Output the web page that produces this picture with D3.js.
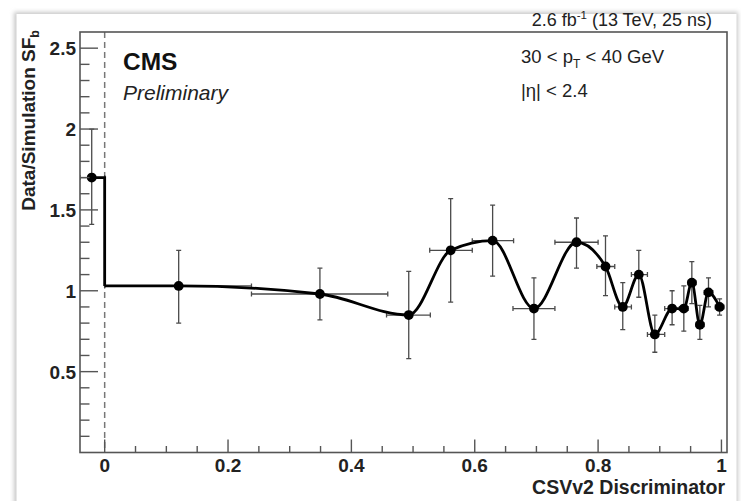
<!DOCTYPE html>
<html>
<head>
<meta charset="utf-8">
<script src="https://cdn.jsdelivr.net/npm/d3@7"></script>
<style>
  html, body { margin: 0; padding: 0; background: #fff; }
  text { font-family: "Liberation Sans", Arial, Helvetica, sans-serif; }
</style>
</head>
<body>
<svg id="chart" width="741" height="501"></svg>
<script>
// ---- data ----
const binX   = [-0.021, 0.12, 0.349, 0.493, 0.561, 0.629, 0.696, 0.765, 0.812, 0.840, 0.866, 0.892, 0.920, 0.939, 0.952, 0.965, 0.979, 0.997];
const binLo  = [-0.040, 0.000, 0.238, 0.457, 0.527, 0.596, 0.662, 0.730, 0.798, 0.827, 0.854, 0.880, 0.908, 0.932, 0.946, 0.959, 0.972, 0.990];
const binHi  = [ 0.000, 0.238, 0.459, 0.528, 0.596, 0.663, 0.730, 0.800, 0.827, 0.854, 0.880, 0.908, 0.932, 0.946, 0.959, 0.972, 0.986, 1.004];
const sfVal  = [1.70, 1.03, 0.98, 0.85, 1.25, 1.31, 0.89, 1.30, 1.15, 0.90, 1.10, 0.73, 0.89, 0.89, 1.05, 0.79, 0.99, 0.90];
const sfUp   = [2.00, 1.25, 1.14, 1.12, 1.57, 1.53, 1.08, 1.45, 1.34, 1.05, 1.25, 0.85, 1.00, 1.03, 1.18, 0.91, 1.08, 0.95];
const sfDown = [1.41, 0.80, 0.82, 0.58, 0.93, 1.09, 0.70, 1.14, 0.97, 0.76, 0.96, 0.62, 0.79, 0.75, 0.92, 0.70, 0.90, 0.85];
const xMajorTicks = [0, 0.2, 0.4, 0.6, 0.8, 1];
const yMajorTicks = [0.5, 1, 1.5, 2, 2.5];
const xTickLabels = ["0", "0.2", "0.4", "0.6", "0.8", "1"];
const yTickLabels = ["0.5", "1", "1.5", "2", "2.5"];

// ---- layout ----
const svg = d3.select("#chart");
const W = 741, H = 501;
const L = 80, R = 727, T = 32, B = 452.5;

// page shadow frame
const defs = svg.append("defs");
const f = defs.append("filter").attr("id", "sh").attr("x", "-5%").attr("y", "-5%").attr("width", "110%").attr("height", "110%");
f.append("feGaussianBlur").attr("stdDeviation", 2);
svg.append("rect").attr("x", 0).attr("y", 0).attr("width", W).attr("height", H).attr("fill", "#fff");
svg.append("rect").attr("x", 14).attr("y", 12).attr("width", 724).attr("height", 520)
  .attr("fill", "#c8c8c8").attr("filter", "url(#sh)");
svg.append("rect").attr("x", 16.5).attr("y", 14).attr("width", 720).attr("height", 520).attr("fill", "#fff");

const x = d3.scaleLinear().domain([-0.04, 1.009]).range([L, R]);
const y = d3.scaleLinear().domain([0, 2.6]).range([B, T]);

const g = svg.append("g");
const clipId = "plotclip";
defs.append("clipPath").attr("id", clipId).append("rect")
  .attr("x", L).attr("y", T).attr("width", R - L).attr("height", B - T);

// dashed line at 0
g.append("line").attr("x1", x(0)).attr("x2", x(0)).attr("y1", T).attr("y2", B)
  .attr("stroke", "#777").attr("stroke-width", 1.5).attr("stroke-dasharray", "6,4");

// error bars
const eb = g.append("g").attr("clip-path", `url(#${clipId})`)
  .attr("stroke", "#4a4a4a").attr("stroke-width", 1.3).attr("fill", "none");
const cap = 2.5;
binX.forEach((bx, i) => {
  const px = x(bx), py = y(sfVal[i]);
  eb.append("line").attr("x1", px).attr("x2", px).attr("y1", y(sfUp[i])).attr("y2", y(sfDown[i]));
  eb.append("line").attr("x1", px - cap).attr("x2", px + cap).attr("y1", y(sfUp[i])).attr("y2", y(sfUp[i]));
  eb.append("line").attr("x1", px - cap).attr("x2", px + cap).attr("y1", y(sfDown[i])).attr("y2", y(sfDown[i]));
  eb.append("line").attr("x1", x(binLo[i])).attr("x2", x(binHi[i])).attr("y1", py).attr("y2", py);
  eb.append("line").attr("x1", x(binLo[i])).attr("x2", x(binLo[i])).attr("y1", py - cap).attr("y2", py + cap);
  eb.append("line").attr("x1", x(binHi[i])).attr("x2", x(binHi[i])).attr("y1", py - cap).attr("y2", py + cap);
});

// step + smooth curve
const stepPts = [[binX[0], sfVal[0]], [0, sfVal[0]], [0, sfVal[1]]];
const curvePts = [[0, sfVal[1]]].concat(binX.slice(1).map((bx, i) => [bx, sfVal[i + 1]]));
g.append("path")
  .attr("d", d3.line().x(d => x(d[0])).y(d => y(d[1]))(stepPts))
  .attr("fill", "none").attr("stroke", "#000").attr("stroke-width", 2.8);
g.append("path")
  .attr("d", d3.line().x(d => x(d[0])).y(d => y(d[1])).curve(d3.curveMonotoneX)(curvePts))
  .attr("fill", "none").attr("stroke", "#000").attr("stroke-width", 2.8).attr("stroke-linejoin", "round");

// markers
g.append("g").selectAll("circle").data(binX).join("circle")
  .attr("cx", d => x(d)).attr("cy", (d, i) => y(sfVal[i])).attr("r", 4.9).attr("fill", "#000");

// frame
g.append("rect").attr("x", L).attr("y", T).attr("width", R - L).attr("height", B - T)
  .attr("fill", "none").attr("stroke", "#555").attr("stroke-width", 1.6);

// x ticks (inside)
const xMinor = d3.range(0, 1.0001, 0.05);
const axg = g.append("g").attr("stroke", "#555").attr("stroke-width", 1.4);
xMinor.forEach(v => {
  const major = xMajorTicks.some(m => Math.abs(m - v) < 1e-6);
  axg.append("line").attr("x1", x(v)).attr("x2", x(v)).attr("y1", B).attr("y2", B - (major ? 13 : 6.5));
});
const yMinor = d3.range(0.1, 2.5001, 0.1);
yMinor.forEach(v => {
  const major = yMajorTicks.some(m => Math.abs(m - v) < 1e-6);
  axg.append("line").attr("y1", y(v)).attr("y2", y(v)).attr("x1", L).attr("x2", L + (major ? 18 : 9.5));
});

// tick labels
g.append("g").selectAll("text").data(xMajorTicks).join("text")
  .attr("x", d => x(d)).attr("y", 472).attr("text-anchor", "middle")
  .attr("font-size", 19).attr("font-weight", "bold").attr("fill", "#222")
  .text((d, i) => xTickLabels[i]);
g.append("g").selectAll("text").data(yMajorTicks).join("text")
  .attr("x", 76).attr("y", d => y(d) + 7).attr("text-anchor", "end")
  .attr("font-size", 19).attr("font-weight", "bold").attr("fill", "#222")
  .text((d, i) => yTickLabels[i]);

// axis titles
g.append("text").attr("x", 725).attr("y", 494).attr("text-anchor", "end")
  .attr("font-size", 19.5).attr("font-weight", "bold").attr("fill", "#222")
  .text("CSVv2 Discriminator");
const yt = g.append("text").attr("transform", "translate(35,30) rotate(-90)").attr("text-anchor", "end")
  .attr("font-size", 19).attr("font-weight", "bold").attr("fill", "#222");
yt.append("tspan").text("Data/Simulation SF");
yt.append("tspan").attr("font-size", 12.5).attr("dy", 4).text("b");

// labels
g.append("text").attr("x", 123).attr("y", 70).attr("font-size", 24.5).attr("font-weight", "bold").attr("fill", "#111").text("CMS");
g.append("text").attr("x", 123).attr("y", 100).attr("font-size", 21).attr("font-style", "italic").attr("fill", "#222").text("Preliminary");

const lumi = g.append("text").attr("x", 712).attr("y", 26).attr("text-anchor", "end").attr("font-size", 18).attr("fill", "#222");
lumi.append("tspan").text("2.6 fb");
lumi.append("tspan").attr("font-size", 11.5).attr("dy", -7).text("-1");
lumi.append("tspan").attr("dy", 7).text(" (13 TeV, 25 ns)");

const pt = g.append("text").attr("x", 521).attr("y", 63).attr("font-size", 18.5).attr("fill", "#222");
pt.append("tspan").text("30 < p");
pt.append("tspan").attr("font-size", 12).attr("dy", 5).text("T");
pt.append("tspan").attr("dy", -5).text(" < 40 GeV");
g.append("text").attr("x", 521).attr("y", 97).attr("font-size", 18.5).attr("fill", "#222").text("|η| < 2.4");
</script>
</body>
</html>
